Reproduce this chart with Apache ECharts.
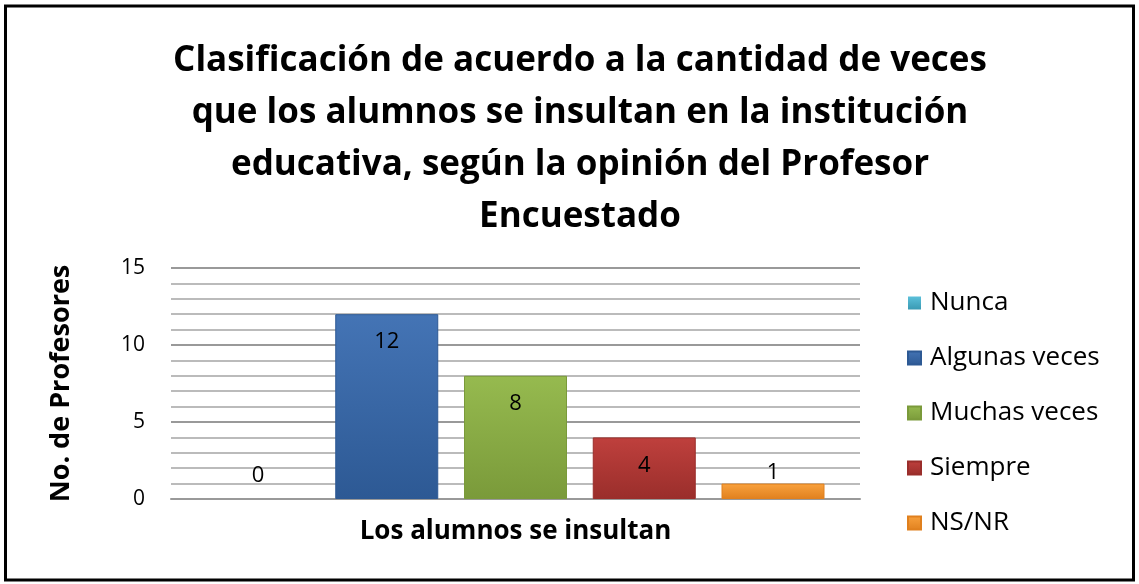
<!DOCTYPE html>
<html>
<head>
<meta charset="utf-8">
<script src="https://cdn.jsdelivr.net/npm/echarts@6/dist/echarts.min.js"></script>
<style>
    body { margin: 0; background: #fff; }
    #chart { width: 1139px; height: 584px; }
</style>
</head>
<body>
<div id="chart"></div>
<script>
    var categories = ["Los alumnos se insultan"];
    var seriesNames = ["Nunca", "Algunas veces", "Muchas veces", "Siempre", "NS/NR"];
    var seriesValues = [0, 12, 8, 4, 1];
    var yTicks = [0, 5, 10, 15];

    // colores tipo Office (arriba claro, abajo oscuro)
    var colors = [
        ["#5BC0DA", "#3A9AB3"],
        ["#4474B5", "#2D5994"],
        ["#96BA4F", "#7A9A3A"],
        ["#BF403D", "#9A2E2B"],
        ["#F9A23E", "#E0801E"]
    ];

    var chart = echarts.init(document.getElementById("chart"));
    var font = "'Open Sans', 'Liberation Sans', sans-serif";

    var series = seriesNames.map(function (name, i) {
        var v = seriesValues[i];
        var small = v < 3;
        return {
            name: name,
            type: "bar",
            barWidth: 103,
            barGap: "25%",
            data: [v],
            itemStyle: {
                color: new echarts.graphic.LinearGradient(0, 0, 0, 1, [
                    {offset: 0, color: colors[i][0]},
                    {offset: 1, color: colors[i][1]}
                ]),
                borderColor: colors[i][1],
                borderWidth: v === 0 ? 0 : 1
            },
            label: {
                show: true,
                position: small ? "top" : "insideTop",
                distance: v === 0 ? 12 : (small ? 0 : 17),
                color: "#000",
                fontFamily: font,
                fontSize: 22
            }
        };
    });

    chart.setOption({
        animation: false,
        title: {
            text: "Clasificación de acuerdo a la cantidad de veces\nque los alumnos se insultan en la institución\neducativa, según la opinión del Profesor\nEncuestado",
            left: 575,
            textAlign: "center",
            top: 30,
            textStyle: {
                fontFamily: font,
                fontWeight: "bold",
                fontSize: 35,
                lineHeight: 52,
                color: "#000"
            }
        },
        legend: {
            orient: "vertical",
            left: 902,
            top: 285,
            itemWidth: 13,
            itemHeight: 13,
            itemGap: 29,
            icon: "rect",
            textStyle: {fontFamily: font, fontSize: 26, color: "#000", padding: [0, 0, 0, 4]},
            data: seriesNames
        },
        grid: {left: 171, right: 279, top: 268, bottom: 85},
        xAxis: {
            type: "category",
            data: categories,
            axisTick: {show: false},
            axisLine: {lineStyle: {color: "#999", width: 2}},
            axisLabel: {
                margin: 20,
                fontFamily: font,
                fontWeight: "bold",
                fontSize: 26,
                color: "#000"
            }
        },
        yAxis: {
            type: "value",
            min: yTicks[0],
            max: yTicks[yTicks.length - 1],
            interval: 5,
            name: "No. de Profesores",
            nameLocation: "middle",
            nameGap: 96,
            nameTextStyle: {fontFamily: font, fontWeight: "bold", fontSize: 27, color: "#000"},
            axisLine: {show: false},
            axisTick: {show: false},
            axisLabel: {margin: 26, fontFamily: font, fontSize: 21, color: "#000"},
            splitLine: {lineStyle: {color: "#999", width: 2}},
            minorTick: {show: false, splitNumber: 5},
            minorSplitLine: {show: true, lineStyle: {color: "#bbb", width: 2}}
        },
        graphic: [{
            type: "rect",
            shape: {x: 5.5, y: 6, width: 1128, height: 574},
            style: {fill: null, stroke: "#000", lineWidth: 3}
        }],
        series: series
    });
</script>
</body>
</html>
